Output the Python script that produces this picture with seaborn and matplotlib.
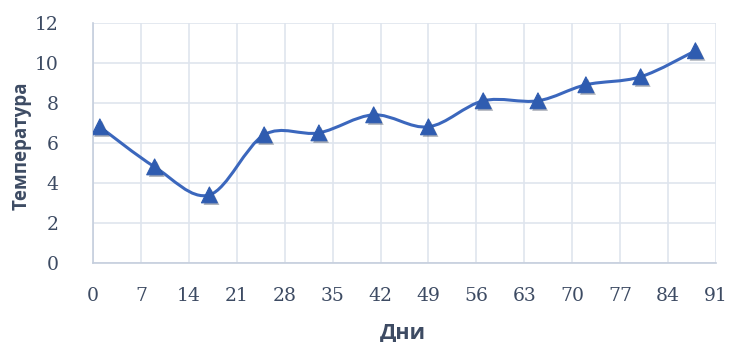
import numpy as np
import seaborn as sns
import matplotlib.pyplot as plt
from matplotlib.path import Path
from matplotlib.patches import PathPatch
import matplotlib.patheffects as pe

days = [1, 9, 17, 25, 33, 41, 49, 57, 65, 72, 80, 88]
temps = [6.8, 4.8, 3.4, 6.4, 6.5, 7.4, 6.8, 8.1, 8.1, 8.9, 9.3, 10.6]
x_ticks = list(range(0, 92, 7))
y_ticks = list(range(0, 13, 2))

sns.set_style("white")
text_color = "#3d4b63"
grid_color = "#dfe5ee"
line_color = "#3b67bd"
marker_color = "#2f5cb0"

fig = plt.figure(figsize=(7.29, 3.42), dpi=100)
ax = fig.add_axes([0.1276, 0.231, 0.8545, 0.7026])


def smooth_path(xs, ys):
    # Excel-style smoothed line: cubic bezier segments through every point
    pts = np.column_stack([xs, ys]).astype(float)
    n = len(pts)
    verts = [pts[0]]
    codes = [Path.MOVETO]
    for i in range(n - 1):
        p0 = pts[i - 1] if i > 0 else pts[i]
        p1 = pts[i]
        p2 = pts[i + 1]
        p3 = pts[i + 2] if i + 2 < n else pts[i + 1]
        c1 = p1 + (p2 - p0) / 6.0
        c2 = p2 - (p3 - p1) / 6.0
        verts += [c1, c2, p2]
        codes += [Path.CURVE4] * 3
    return Path(verts, codes)


ax.add_patch(PathPatch(smooth_path(days, temps), facecolor="none",
                       edgecolor=line_color, lw=2.2, zorder=3,
                       capstyle="round", joinstyle="round"))

sns.scatterplot(x=days, y=temps, marker="^", s=130, color=marker_color,
                edgecolor=marker_color, linewidth=0.8, zorder=4, ax=ax,
                path_effects=[pe.SimplePatchShadow(offset=(1.5, -1.5), alpha=0.35),
                              pe.Normal()])

ax.set_xlim(0, 91)
ax.set_ylim(0, 12)
ax.set_xticks(x_ticks)
ax.set_yticks(y_ticks)
ax.grid(True, color=grid_color, lw=1.2)
ax.set_axisbelow(True)

for side in ["top", "right"]:
    ax.spines[side].set_visible(False)
for side in ["left", "bottom"]:
    ax.spines[side].set_color("#c5cedd")
    ax.spines[side].set_linewidth(1.2)

ax.tick_params(axis="both", length=0, colors=text_color, labelsize=13.5)
ax.tick_params(axis="y", pad=25)
ax.tick_params(axis="x", pad=17)
for lab in ax.get_xticklabels() + ax.get_yticklabels():
    lab.set_family("DejaVu Serif")

ax.set_xlabel("Дни", fontsize=15.5, color=text_color, family="Open Sans",
              fontweight="bold", va="center")
ax.xaxis.set_label_coords(0.498, -0.291)
ax.set_ylabel("Температура", fontsize=13.5, color=text_color, family="Open Sans",
              fontweight="bold", va="center")
ax.yaxis.set_label_coords(-0.114, 0.487)

fig.savefig("out.png", dpi=100)
plt.close(fig)
